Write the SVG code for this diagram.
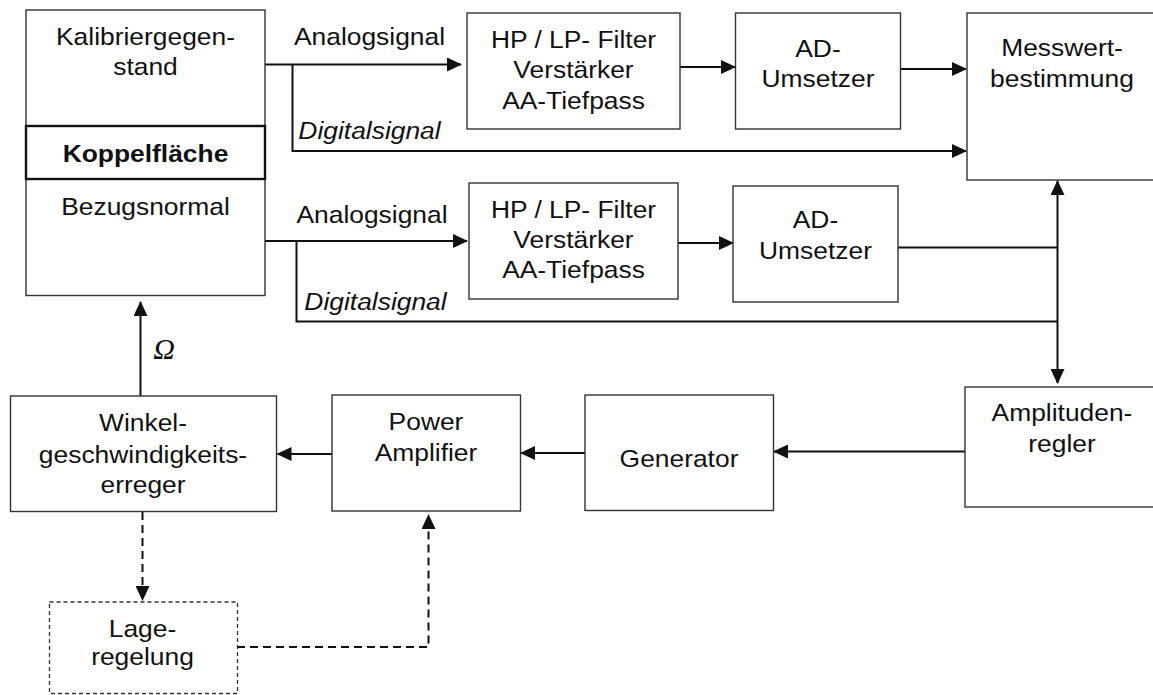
<svg xmlns="http://www.w3.org/2000/svg" width="1153" height="695" viewBox="0 0 1153 695">
<style>
.box{fill:#fff;stroke:#333;stroke-width:1.4}
.kop{fill:#fff;stroke:#111;stroke-width:2.4}
.dbox{fill:#fff;stroke:#333;stroke-width:1.3;stroke-dasharray:4 3}
.t{font-family:"Liberation Sans",Arial,sans-serif;font-size:24px;fill:#111;text-anchor:middle}
.b{font-weight:bold}
.i{font-style:italic}
.om{font-family:"Liberation Serif","Times New Roman",serif;font-style:italic;font-size:30px;fill:#111;text-anchor:middle}
.c{fill:none;stroke:#111;stroke-width:2}
.d{fill:none;stroke:#111;stroke-width:2;stroke-dasharray:8 5}
</style>
<defs>
<marker id="ah" viewBox="0 0 15 14" refX="14" refY="7" markerWidth="15" markerHeight="14" markerUnits="userSpaceOnUse" orient="auto-start-reverse">
<path d="M0,0 L15,7 L0,14 z" fill="#111"/>
</marker>
</defs>
<rect width="1153" height="695" fill="#fff"/>

<g id="connectors">
<path class="c" d="M265 64.5 H461" marker-end="url(#ah)"/>
<path class="c" d="M292.5 64.5 V151 H966" marker-end="url(#ah)"/>
<path class="c" d="M680 67 H735" marker-end="url(#ah)"/>
<path class="c" d="M901 69 H966" marker-end="url(#ah)"/>
<path class="c" d="M265 241 H467" marker-end="url(#ah)"/>
<path class="c" d="M296.5 241 V321.5 H1057.5"/>
<path class="c" d="M678 243 H733" marker-end="url(#ah)"/>
<path class="c" d="M898 247.5 H1057.5"/>
<path class="c" d="M1057.5 181 V383" marker-start="url(#ah)" marker-end="url(#ah)"/>
<path class="c" d="M965 451.5 H774" marker-end="url(#ah)"/>
<path class="c" d="M585 453 H521" marker-end="url(#ah)"/>
<path class="c" d="M332 454 H277.5" marker-end="url(#ah)"/>
<path class="c" d="M140.5 396 V302" marker-end="url(#ah)"/>
<path class="d" d="M142.5 512 V600" marker-end="url(#ah)"/>
<path class="d" d="M237 647 H428.5 V515" marker-end="url(#ah)"/>
<text class="t i" transform="translate(369.5 139) scale(1.1 1)">Digitalsignal</text>
<text class="t" transform="translate(369.5 45) scale(1.1 1)">Analogsignal</text>
<text class="t" transform="translate(372 223) scale(1.1 1)">Analogsignal</text>
<text class="t i" transform="translate(375.5 310) scale(1.1 1)">Digitalsignal</text>
<text class="om" x="164" y="359">Ω</text>
</g>

<g id="kalibrier">
<rect class="box" x="26" y="10" width="239" height="285.5"/>
<rect class="kop" x="26" y="126" width="239" height="53"/>
<text class="t" transform="translate(145.5 45) scale(1.1 1)"><tspan x="0" y="0">Kalibriergegen-</tspan><tspan x="0" y="30">stand</tspan></text>
<text class="t b" transform="translate(145.5 162) scale(1.1 1)">Koppelfläche</text>
<text class="t" transform="translate(145.5 215) scale(1.1 1)">Bezugsnormal</text>
</g>

<g id="filter1">
<rect class="box" x="467" y="13" width="213" height="116"/>
<text class="t" transform="translate(573.5 48) scale(1.1 1)"><tspan x="0" y="0">HP / LP- Filter</tspan><tspan x="0" y="30.5">Verstärker</tspan><tspan x="0" y="61">AA-Tiefpass</tspan></text>
</g>

<g id="ad1">
<rect class="box" x="735.5" y="13" width="165" height="116"/>
<text class="t" transform="translate(818 57) scale(1.1 1)"><tspan x="0" y="0">AD-</tspan><tspan x="0" y="30">Umsetzer</tspan></text>
</g>

<g id="messwert">
<rect class="box" x="967" y="13" width="200" height="167"/>
<text class="t" transform="translate(1062 56) scale(1.1 1)"><tspan x="0" y="0">Messwert-</tspan><tspan x="0" y="31">bestimmung</tspan></text>
</g>

<g id="filter2">
<rect class="box" x="469" y="183" width="209" height="116"/>
<text class="t" transform="translate(573.5 218) scale(1.1 1)"><tspan x="0" y="0">HP / LP- Filter</tspan><tspan x="0" y="30">Verstärker</tspan><tspan x="0" y="60">AA-Tiefpass</tspan></text>
</g>

<g id="ad2">
<rect class="box" x="733" y="186" width="165" height="116"/>
<text class="t" transform="translate(815.5 228) scale(1.1 1)"><tspan x="0" y="0">AD-</tspan><tspan x="0" y="31">Umsetzer</tspan></text>
</g>

<g id="amplitudenregler">
<rect class="box" x="965" y="387" width="200" height="120"/>
<text class="t" transform="translate(1062 421) scale(1.1 1)"><tspan x="0" y="0">Amplituden-</tspan><tspan x="0" y="31">regler</tspan></text>
</g>

<g id="generator">
<rect class="box" x="585" y="395" width="188.5" height="115.5"/>
<text class="t" transform="translate(679 467) scale(1.1 1)">Generator</text>
</g>

<g id="power">
<rect class="box" x="332" y="395" width="188.5" height="116"/>
<text class="t" transform="translate(426 430) scale(1.1 1)"><tspan x="0" y="0">Power</tspan><tspan x="0" y="31">Amplifier</tspan></text>
</g>

<g id="winkel">
<rect class="box" x="10.5" y="396" width="266" height="115.5"/>
<text class="t" transform="translate(143 431) scale(1.1 1)"><tspan x="0" y="0">Winkel-</tspan><tspan x="0" y="32">geschwindigkeits-</tspan><tspan x="0" y="62">erreger</tspan></text>
</g>

<g id="lageregelung">
<rect class="dbox" x="49.5" y="602" width="188" height="91.5"/>
<text class="t" transform="translate(142.5 637) scale(1.1 1)"><tspan x="0" y="0">Lage-</tspan><tspan x="0" y="28">regelung</tspan></text>
</g>
</svg>
